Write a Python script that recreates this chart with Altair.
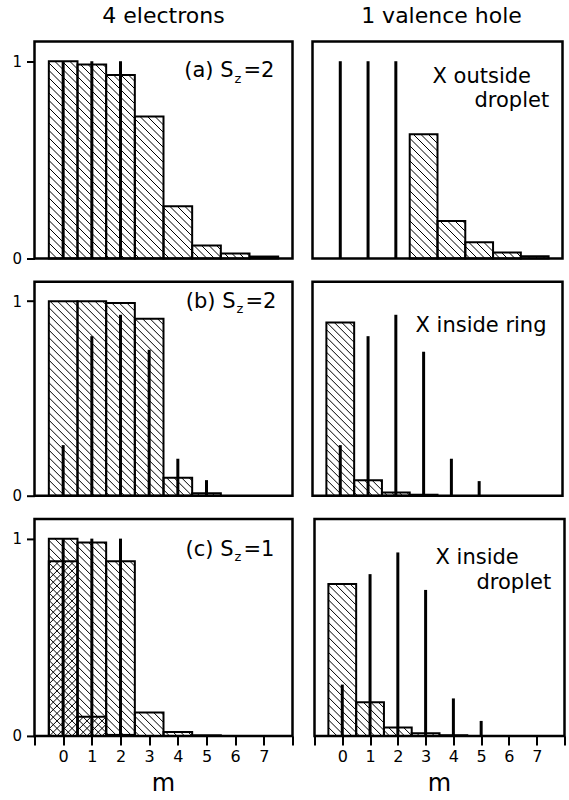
import math
import altair as alt
import pandas as pd

# ---------------- data ----------------
M = [0, 1, 2, 3, 4, 5, 6, 7]

# (a) Sz=2, X outside droplet
a_el_bars = [1.0, 0.983, 0.93, 0.72, 0.265, 0.066, 0.025, 0.01]
a_el_sticks = [1.0, 1.0, 1.0, 0, 0, 0, 0, 0]
a_h_bars = [0, 0, 0, 0.63, 0.19, 0.083, 0.03, 0.012]
a_h_sticks = [1.0, 1.0, 1.0, 0, 0, 0, 0, 0]

# (b) Sz=2, X inside ring
b_el_bars = [1.0, 1.0, 0.99, 0.91, 0.092, 0.012, 0, 0]
b_el_sticks = [0.26, 0.82, 0.93, 0.75, 0.19, 0.08, 0, 0]
b_h_bars = [0.89, 0.08, 0.017, 0.005, 0, 0, 0, 0]
b_h_sticks = [0.26, 0.82, 0.93, 0.74, 0.19, 0.075, 0, 0]

# (c) Sz=1, X inside droplet
c_el_bars = [1.0, 0.98, 0.885, 0.118, 0.02, 0.003, 0, 0]
c_el_cross = [0.885, 0.097, 0.005, 0, 0, 0, 0, 0]
c_el_sticks = [1.0, 1.0, 1.0, 0, 0, 0, 0, 0]
c_h_bars = [0.77, 0.17, 0.042, 0.013, 0.003, 0, 0, 0]
c_h_sticks = [0.26, 0.82, 0.93, 0.74, 0.19, 0.076, 0, 0]

col_titles = ["4 electrons", "1 valence hole"]
x_title = "m"
x_ticks = list(range(-1, 9))
y_ticks = [0, 1]

# ---------------- layout / style ----------------
XMIN, XMAX, YMAX = -1, 8, 1.1
W_L, W_R = 258, 250
HEIGHTS = [217, 214, 217]
FONT = "DejaVu Sans"
HATCH_STEP = 7.5

xs = alt.Scale(domain=[XMIN, XMAX], nice=False, zero=False)
ys = alt.Scale(domain=[0, YMAX], nice=False, zero=False)


def bars_df(vals):
    rows = [{"x": m - 0.5, "x2": m + 0.5, "y": 0.0, "y2": v} for m, v in zip(M, vals) if v > 0]
    return pd.DataFrame(rows)


def sticks_df(vals):
    return pd.DataFrame([{"x": m, "y": 0.0, "y2": v} for m, v in zip(M, vals) if v > 0])


def hatch_df(vals, W, H, direction):
    sx = W / (XMAX - XMIN)
    sy = H / YMAX
    segs = []
    for m, h in zip(M, vals):
        if h <= 0:
            continue
        px0, px1 = (m - 0.5 - XMIN) * sx, (m + 0.5 - XMIN) * sx
        py0, py1 = 0.0, h * sy
        if direction == "back":
            cmin, cmax = px0 + py0, px1 + py1
            for k in range(math.ceil(cmin / HATCH_STEP), math.floor(cmax / HATCH_STEP) + 1):
                c = k * HATCH_STEP
                xa, xb = max(px0, c - py1), min(px1, c - py0)
                if xb - xa > 0.2:
                    segs.append((xa, c - xa, xb, c - xb))
        else:
            cmin, cmax = py0 - px1, py1 - px0
            for k in range(math.ceil(cmin / HATCH_STEP), math.floor(cmax / HATCH_STEP) + 1):
                c = k * HATCH_STEP
                xa, xb = max(px0, py0 - c), min(px1, py1 - c)
                if xb - xa > 0.2:
                    segs.append((xa, xa + c, xb, xb + c))
    return pd.DataFrame(
        [{"x": a / sx + XMIN, "y": b / sy, "x2": c / sx + XMIN, "y2": d / sy} for a, b, c, d in segs]
    )


def text_layer(t, x, y, size, align="left", baseline="alphabetic"):
    return alt.Chart(pd.DataFrame({"t": [t]})).mark_text(
        align=align, baseline=baseline, font=FONT, fontSize=size, color="black"
    ).encode(text="t:N", x=alt.value(x), y=alt.value(y))


def panel(bars, sticks, W, H, left, bottom, texts, cross=None):
    if bottom:
        xaxis = alt.Axis(
            values=x_ticks,
            labelExpr="datum.value >= 0 && datum.value <= 7 ? datum.label : ''",
            labelOverlap=False,
            tickSize=9, tickWidth=2, tickColor="black", domain=False, grid=False,
            labelFont=FONT, labelFontSize=16, labelColor="black", labelPadding=4,
            labelFlush=False, title=None,
        )
        texts = texts + [(x_title, W / 2, H + 60, 24, "center", "bottom")]
    else:
        xaxis = None
    if left:
        yaxis = alt.Axis(
            values=y_ticks, format="d", tickSize=8, tickWidth=2, tickColor="black",
            domain=False, grid=False, labelFont=FONT, labelFontSize=15,
            labelColor="black", labelPadding=5, title=None, labelOverlap=False,
        )
    else:
        yaxis = None

    X = alt.X("x:Q", scale=xs, axis=xaxis)
    Y = alt.Y("y:Q", scale=ys, axis=yaxis)

    layers = []
    layers.append(alt.Chart(hatch_df(bars, W, H, "back")).mark_rule(
        color="black", strokeWidth=1).encode(x=X, x2="x2:Q", y=Y, y2="y2:Q"))
    if cross is not None:
        layers.append(alt.Chart(hatch_df(cross, W, H, "fwd")).mark_rule(
            color="black", strokeWidth=1).encode(x=X, x2="x2:Q", y=Y, y2="y2:Q"))
    layers.append(alt.Chart(bars_df(bars)).mark_rect(
        fill="white", fillOpacity=0, stroke="black", strokeWidth=2).encode(
        x=X, x2="x2:Q", y=Y, y2="y2:Q"))
    if cross is not None:
        layers.append(alt.Chart(bars_df(cross)).mark_rect(
            fill="white", fillOpacity=0, stroke="black", strokeWidth=2).encode(
            x=X, x2="x2:Q", y=Y, y2="y2:Q"))
    layers.append(alt.Chart(sticks_df(sticks)).mark_rule(color="black", strokeWidth=3).encode(
        x=X, y=Y, y2="y2:Q"))
    for t in texts:
        layers.append(text_layer(*t))
    return alt.layer(*layers).properties(width=W, height=H)


def sz_texts(label, val, x0, y0):
    return [
        (label + " S", x0, y0, 21, "right"),
        ("z", x0 + 1, y0 + 5.5, 13, "left"),
        ("=" + val, x0 + 10, y0, 21, "left"),
    ]


pa_l = panel(a_el_bars, a_el_sticks, W_L, HEIGHTS[0], True, False,
             sz_texts("(a)", "2", 199, 35.5) + [(col_titles[0], W_L / 2, -18.5, 22, "center")])
pa_r = panel(a_h_bars, a_h_sticks, W_R, HEIGHTS[0], False, False,
             [("X outside", 120, 41.3, 21), ("droplet", 162, 65.3, 21),
              (col_titles[1], 129, -18.5, 22, "center")])
pb_l = panel(b_el_bars, b_el_sticks, W_L, HEIGHTS[1], True, False,
             sz_texts("(b)", "2", 201, 26))
pb_r = panel(b_h_bars, b_h_sticks, W_R, HEIGHTS[1], False, False,
             [("X inside ring", 103, 50, 21)])
pc_l = panel(c_el_bars, c_el_sticks, W_L, HEIGHTS[2], True, True,
             sz_texts("(c)", "1", 199, 37), cross=c_el_cross)
pc_r = panel(c_h_bars, c_h_sticks, W_R, HEIGHTS[2], False, True,
             [("X inside", 121, 45, 21), ("droplet", 162, 70, 21)])

rows = [
    alt.hconcat(pa_l, pa_r, spacing=16).resolve_scale(x="independent", y="independent"),
    alt.hconcat(pb_l, pb_r, spacing=16).resolve_scale(x="independent", y="independent"),
    alt.hconcat(pc_l, pc_r, spacing=16).resolve_scale(x="independent", y="independent"),
]

chart = alt.vconcat(*rows, spacing=11.2).resolve_scale(
    x="independent", y="independent"
).properties(
    padding={"left": 10.5, "top": 3.5, "right": 0, "bottom": 0}
).configure(
    background="white"
).configure_axis(
    labelOverlap=False
).configure_view(
    stroke="black", strokeWidth=2.5
)

chart.save("out.html", embed_options={"renderer": "svg", "actions": False})
